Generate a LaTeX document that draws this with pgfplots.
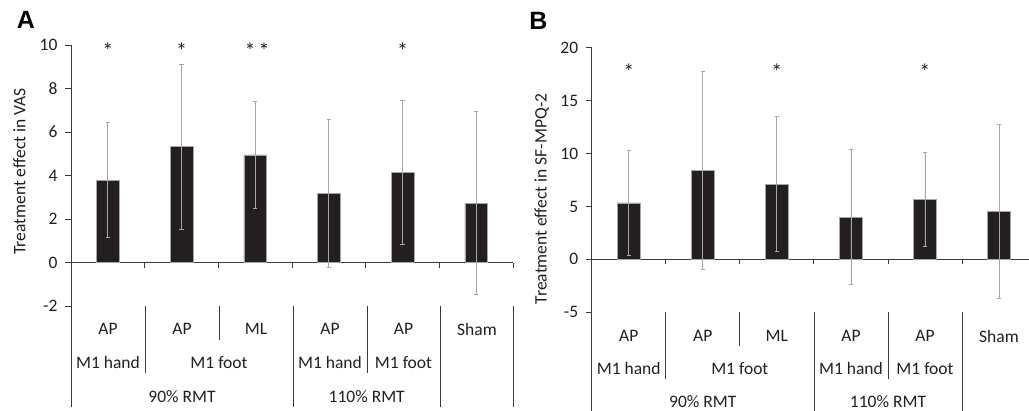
\documentclass[border=0pt]{standalone}
\usepackage{pgfplots}
\pgfplotsset{compat=1.18}
\usepackage{fontspec}
\setmainfont{Carlito}
\newfontfamily\letterfont{Liberation Sans}
\definecolor{barc}{HTML}{231F20}
\definecolor{errc}{HTML}{A6A6A6}
\definecolor{axc}{HTML}{3A3A3A}
\definecolor{txt}{HTML}{231F20}
\newcommand{\fs}{\fontsize{17.5}{20}\selectfont}
\newcommand{\fa}{\fontsize{22}{24}\selectfont}
\pgfplotsset{
  common/.style={
    scale only axis,
    axis y line*=left,
    axis x line*=middle,
    xtick=\empty,
    tick align=outside,
    major tick length=6pt,
    axis line style={axc, line width=0.8pt},
    tick style={axc, line width=0.8pt},
    yticklabel style={font=\fs, text=txt, xshift=-4pt},
    /pgf/number format/assume math mode=true,
    clip=false,
  },
  bars/.style={ybar, fill=barc, draw=gray!70, line width=0.4pt,
    error bars/.cd, y dir=both, y explicit,
    error bar style={errc, line width=0.8pt},
    error mark options={errc, rotate=90, mark size=2.2pt, line width=0.8pt},
    /pgfplots/.cd},
}
\begin{document}
\begin{tikzpicture}[x=1pt,y=1pt]
\clip (0,0) rectangle (1029,-411);
% ---------------- Panel A ----------------
\begin{axis}[common, at={(71pt,-306.2pt)}, anchor=south west,
  width=442pt, height=261.2pt,
  xmin=-0.5, xmax=5.5, ymin=-2, ymax=10,
  ytick={-2,0,2,4,6,8,10}, yticklabels={-2,0,2,4,6,8,10}]
\addplot[bar width=22.7pt, bars] table[x=x, y=y, y error=e] {
x y e
0 3.79 2.64
1 5.33 3.80
2 4.95 2.48
3 3.17 3.41
4 4.14 3.31
5 2.73 4.21
};
\foreach \b in {0.5,1.5,2.5,3.5,4.5,5.5}{
  \edef\tmp{\noexpand\draw[axc, line width=0.8pt] (axis cs:\b,0) -- ++(0pt,-5pt);}\tmp
}
\node[font=\fa, text=txt, anchor=base] at (axis cs:0,9.38) {*};
\node[font=\fa, text=txt, anchor=base] at (axis cs:1,9.38) {*};
\node[font=\fa, text=txt, anchor=base] at (axis cs:1.93,9.38) {*};
\node[font=\fa, text=txt, anchor=base] at (axis cs:2.12,9.38) {*};
\node[font=\fa, text=txt, anchor=base] at (axis cs:4,9.38) {*};
\end{axis}
% ---------------- Panel B ----------------
\begin{axis}[common, at={(591.7pt,-312.3pt)}, anchor=south west,
  width=437.3pt, height=264.6pt,
  xmin=-0.5, xmax=5.405, ymin=-5, ymax=20,
  ytick={-5,0,5,10,15,20}, yticklabels={-5,0,5,10,15,20}]
\addplot[bar width=23pt, bars] table[x=x, y=y, y error=e] {
x y e
0 5.35 4.93
1 8.44 9.35
2 7.12 6.40
3 4.00 6.40
4 5.67 4.45
5 4.57 8.23
};
\foreach \b in {0.5,1.5,2.5,3.5,4.5}{
  \edef\tmp{\noexpand\draw[axc, line width=0.8pt] (axis cs:\b,0) -- ++(0pt,-5pt);}\tmp
}
\node[font=\fa, text=txt, anchor=base] at (axis cs:0,17.01) {*};
\node[font=\fa, text=txt, anchor=base] at (axis cs:2,17.01) {*};
\node[font=\fa, text=txt, anchor=base] at (axis cs:4,17.01) {*};
\end{axis}
% ---------------- decorations ----------------
\node[font=\letterfont\bfseries\fontsize{25}{28}\selectfont, text=black] at (26,-20) {A};
\node[font=\letterfont\bfseries\fontsize{25}{28}\selectfont, text=black] at (538.5,-20.5) {B};
\node[font=\fs, text=txt, rotate=90] at (19.5,-171.5) {Treatment effect in VAS};
\node[font=\fs, text=txt, rotate=90] at (541.7,-199) {Treatment effect in SF-MPQ-2};
% dividers A
\begin{scope}[axc, line width=0.8pt]
\draw (71,-306) -- (71,-407);
\draw (145,-306) -- (145,-373);
\draw (219,-306) -- (219,-340);
\draw (293,-306) -- (293,-407);
\draw (367,-306) -- (367,-373);
\draw (440,-306) -- (440,-407);
\draw (513,-306) -- (513,-407);
% dividers B
\draw (591.7,-312.3) -- (591.7,-415);
\draw (665.8,-312.3) -- (665.8,-379);
\draw (739.8,-312.3) -- (739.8,-346);
\draw (813.9,-312.3) -- (813.9,-415);
\draw (888,-312.3) -- (888,-379);
\draw (962,-312.3) -- (962,-415);
\end{scope}
% labels A
\begin{scope}[every node/.style={font=\fs, text=txt}]
\node at (108,-329) {AP};
\node at (182,-329) {AP};
\node at (256,-329) {ML};
\node at (330,-329) {AP};
\node at (403.5,-329) {AP};
\node at (477,-329) {Sham};
\node at (108,-362.5) {M1 hand};
\node at (219,-362.5) {M1 foot};
\node at (330,-362.5) {M1 hand};
\node at (403.5,-362.5) {M1 foot};
\node at (182,-397) {90\% RMT};
\node at (366.7,-397) {110\% RMT};
% labels B
\node at (628.7,-336) {AP};
\node at (702.8,-336) {AP};
\node at (776.9,-336) {ML};
\node at (851,-336) {AP};
\node at (925,-336) {AP};
\node at (999,-336) {Sham};
\node at (628.7,-368.5) {M1 hand};
\node at (739.8,-368.5) {M1 foot};
\node at (851,-368.5) {M1 hand};
\node at (925,-368.5) {M1 foot};
\node[inner sep=0pt] at (702.8,-402) {90\% RMT};
\node[inner sep=0pt] at (888,-402) {110\% RMT};
\end{scope}
\end{tikzpicture}
\end{document}
